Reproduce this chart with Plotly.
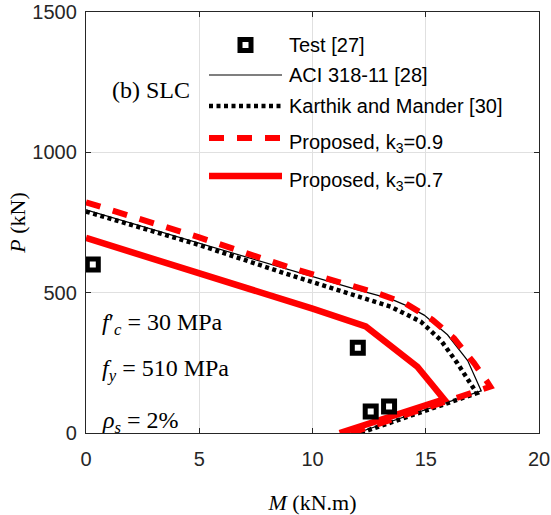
import plotly.graph_objects as go

# ---------------- data ----------------
test_M = [0.3, 12.0, 12.57, 13.38]
test_P = [600, 304, 77, 94]

aci_M = [0, 5, 9, 12, 13.45, 14.2, 14.93, 15.96, 16.85, 17.45, 11.95]
aci_P = [795, 677, 580, 510, 478, 452, 420, 350, 258, 150, 0]

km_M = [0, 5, 9, 12, 13.45, 14.78, 15.66, 16.4, 16.99, 17.25, 12.1]
km_P = [789, 670, 563, 487, 450, 397, 331, 248, 177, 142, 0]

p09_M = [0, 5, 9, 11.6, 12.9, 14.1, 15.3, 16.25, 17.14, 17.75, 17.85, 11.7]
p09_P = [822, 697, 589, 527, 497, 462, 403, 337, 248, 178, 165, 0]

p07_M = [0, 5, 10, 12.35, 13.1, 13.9, 14.63, 15.3, 15.81, 11.2]
p07_P = [695, 570, 443, 380, 335, 284, 236, 170, 120, 0]

x_ticks = [0, 5, 10, 15, 20]
y_ticks = [0, 500, 1000, 1500]

names = ["Test [27]", "ACI 318-11 [28]", "Karthik and Mander [30]",
         "Proposed, k<sub>3</sub>=0.9", "Proposed, k<sub>3</sub>=0.7"]

# ---------------- styles ----------------
SANS = "Arial, 'Liberation Sans', sans-serif"
SERIF = "'Times New Roman', 'Liberation Serif', serif"
AX = "#262626"
RED = "#ff0000"

W, H = 551, 515
L, R, T, B = 86, 12, 12, 82
PW, PH = W - L - R, H - T - B


def px(xp):
    return (xp - L) / PW


def py(yp):
    return (H - B - yp) / PH


line_styles = [
    None,
    dict(color="black", width=1.2, dash="solid"),
    dict(color="black", width=4.5, dash="4px,3.5px"),
    dict(color=RED, width=6, dash="15px,13px"),
    dict(color=RED, width=6.5, dash="solid"),
]

fig = go.Figure()
series = [(aci_M, aci_P), (km_M, km_P), (p09_M, p09_P), (p07_M, p07_P)]
for i, (m, p) in enumerate(series):
    fig.add_trace(go.Scatter(x=m, y=p, mode="lines", name=names[i + 1],
                             line=line_styles[i + 1], showlegend=False))

fig.add_trace(go.Scatter(x=test_M, y=test_P, mode="markers", name=names[0],
                         marker=dict(symbol="square", size=11, color="white",
                                     line=dict(color="black", width=5)),
                         showlegend=False))

shapes = []
annotations = []

# legend box (white, no border)
shapes.append(dict(type="rect", xref="paper", yref="paper",
                   x0=px(203), x1=px(516), y0=py(200), y1=py(22),
                   fillcolor="white", line=dict(width=0), layer="between"))

row_y = [45, 75, 106, 138, 176]
for i, nm in enumerate(names):
    yy = row_y[i]
    if i == 0:
        shapes.append(dict(type="rect", xref="paper", yref="paper",
                           x0=px(245.5 - 5.5), x1=px(245.5 + 5.5),
                           y0=py(yy + 5.5), y1=py(yy - 5.5),
                           fillcolor="white", line=dict(color="black", width=5),
                           layer="above"))
    else:
        shapes.append(dict(type="line", xref="paper", yref="paper",
                           x0=px(209), x1=px(282), y0=py(yy), y1=py(yy),
                           line=line_styles[i], layer="above"))
    dy = 5 if i >= 3 else 0
    annotations.append(dict(xref="paper", yref="paper", x=px(287), y=py(yy + dy),
                            xanchor="left", yanchor="middle", text=nm,
                            showarrow=False, font=dict(family=SANS, size=20, color="black")))

annotations.append(dict(xref="paper", yref="paper", x=px(151), y=py(90),
                        xanchor="center", yanchor="middle", text="(b) SLC",
                        showarrow=False, font=dict(family=SERIF, size=24, color="black")))

param_texts = ["<i>f</i>′<sub><i>c</i></sub> = 30 MPa",
               "<i>f</i><sub><i>y</i></sub> = 510 MPa",
               "<i>ρ</i><sub><i>s</i></sub> = 2%"]
param_y = [324, 370, 422]
for t, yy in zip(param_texts, param_y):
    annotations.append(dict(xref="paper", yref="paper", x=px(100), y=py(yy),
                            xanchor="left", yanchor="middle", text=t,
                            showarrow=False, font=dict(family=SERIF, size=24, color="black")))

axis_common = dict(showgrid=True, gridcolor="#e0e0e0", gridwidth=1,
                   showline=True, linecolor=AX, linewidth=1.3, mirror="ticks",
                   ticks="inside", ticklen=5, tickcolor=AX, tickwidth=1.3,
                   zeroline=False, automargin=False, ticklabeloverflow="allow",
                   tickfont=dict(family=SANS, size=20, color=AX))

fig.update_layout(
    width=W, height=H,
    margin=dict(l=L, r=R, t=T, b=B, pad=0),
    paper_bgcolor="white", plot_bgcolor="white",
    xaxis=dict(range=[0, 20], tickvals=x_ticks, ticklabelstandoff=8,
               title=dict(text="<i>M</i> (kN.m)", standoff=26,
                          font=dict(family=SERIF, size=22, color="black")),
               **axis_common),
    yaxis=dict(range=[0, 1500], tickvals=y_ticks, ticklabelstandoff=4,
               title=dict(text="<i>P</i> (kN)", standoff=0,
                          font=dict(family=SERIF, size=22, color="black")),
               **axis_common),
    shapes=shapes,
    annotations=annotations,
    showlegend=False,
)

fig.write_html("out.html",
               config={"displayModeBar": False},
               post_script="document.body.style.margin='0';document.body.style.padding='0';")
